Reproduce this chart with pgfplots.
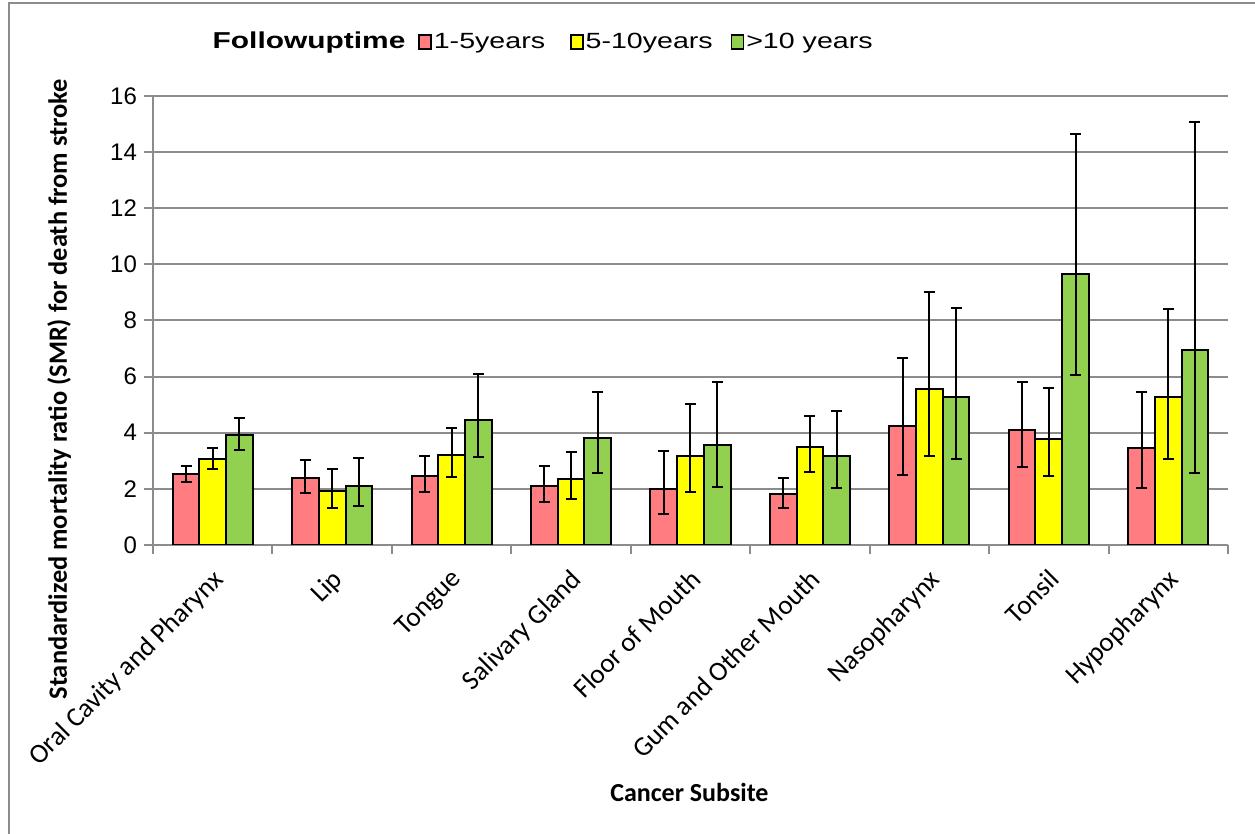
\documentclass[border=0pt]{standalone}
\usepackage{fontspec}
\usepackage{pgfplots}
\pgfplotsset{compat=1.18}
\usepackage{pgfplotstable}
\setmainfont{Carlito}
\newfontfamily\arial{Liberation Sans}
\newfontfamily\legfont[FakeStretch=1.3]{Liberation Sans}

\definecolor{cred}{RGB}{255,124,128}
\definecolor{cyel}{RGB}{255,255,0}
\definecolor{cgrn}{RGB}{146,208,80}
\definecolor{cgrid}{RGB}{140,140,140}

\pgfplotstableread{
x y hi lo
0 2.53 2.83 2.26
1 2.39 3.02 1.85
2 2.47 3.18 1.88
3 2.11 2.83 1.53
4 2.01 3.35 1.09
5 1.83 2.39 1.32
6 4.23 6.68 2.51
7 4.11 5.82 2.79
8 3.46 5.45 2.04
}\tred
\pgfplotstableread{
x y hi lo
0 3.06 3.47 2.70
1 1.91 2.70 1.33
2 3.20 4.17 2.41
3 2.36 3.31 1.64
4 3.18 5.02 1.89
5 3.49 4.61 2.61
6 5.56 9.02 3.18
7 3.79 5.60 2.46
8 5.27 8.42 3.06
}\tyel
\pgfplotstableread{
x y hi lo
0 3.91 4.53 3.37
1 2.11 3.11 1.39
2 4.45 6.09 3.15
3 3.81 5.45 2.55
4 3.58 5.80 2.06
5 3.18 4.79 2.03
6 5.29 8.45 3.08
7 9.67 14.65 6.07
8 6.94 15.06 2.55
}\tgrn

\pgfplotsset{
  errstyle/.style={
    /pgfplots/error bars/y dir=both,
    /pgfplots/error bars/y explicit,
    /pgfplots/error bars/error bar style={black, line width=1pt},
    /pgfplots/error bars/error mark options={rotate=90, black, line width=1pt, mark size=2.75pt}
  }
}

\begin{document}
\begin{tikzpicture}[x=1pt,y=1pt]
\path[use as bounding box] (0,0) rectangle (627.5,417);
\draw[cgrid, line width=1pt] (4.25,0) -- (4.25,415.5) -- (627.5,415.5);
\begin{axis}[
  at={(76.5pt,144.5pt)}, anchor=south west,
  scale only axis, width=537.5pt, height=224.5pt,
  ybar=0pt, bar width=0.2234,
  xmin=-0.5, xmax=8.5, ymin=0, ymax=16,
  ytick={0,2,...,16},
  xtick={-0.5,0.5,...,8.5}, xticklabels={},
  extra x ticks={0,1,2,3,4,5,6,7,8},
  extra x tick labels={Oral Cavity and Pharynx, Lip, Tongue, Salivary Gland, Floor of Mouth, Gum and Other Mouth, Nasopharynx, Tonsil, Hypopharynx},
  extra x tick style={major tick length=0pt, grid=none,
    tick label style={rotate=45, anchor=north east, xshift=-5pt, yshift=-4pt, font=\fontsize{13.6}{16}\selectfont}},
  ymajorgrids, grid style={cgrid, line width=1pt},
  axis x line*=bottom, axis y line*=left,
  axis line style={cgrid, line width=1pt, -},
  tick style={cgrid, line width=1pt},
  tick align=outside, major tick length=4.5pt,
  yticklabel style={font=\arial\fontsize{12}{14}\selectfont},
  /pgf/number format/assume math mode=true,
  ylabel={\bfseries Standardized mortality ratio (SMR) for death from stroke},
  ylabel style={at={(axis description cs:-0.0874,0.347)}, anchor=center, rotate=0, font=\fontsize{13.2}{15}\selectfont},
  xlabel={\bfseries Cancer Subsite},
  xlabel style={at={(axis description cs:0.499,-0.552)}, anchor=center, font=\fontsize{13}{15}\selectfont},
  legend columns=-1,
  legend style={at={(axis description cs:0.3625,1.1203)}, anchor=center, draw=none,
    font=\legfont\fontsize{11}{13}\selectfont,
    nodes={inner sep=1pt},
    /tikz/column 2/.style={column sep=5.5pt},
    /tikz/column 4/.style={column sep=11.5pt},
    /tikz/column 6/.style={column sep=8pt}},
]
\addlegendimage{empty legend}
\addlegendentry{\fontsize{11.5}{13}\selectfont\bfseries Followuptime}
\addplot[fill=cred, draw=black, line width=1pt, bar shift=0pt, errstyle,
  legend image code/.code={\draw[fill=cred,draw=black,line width=0.75pt] (0pt,-3.5pt) rectangle (6pt,3.5pt);}]
  table[x expr=\thisrow{x}-0.2234, y=y, y error plus expr=\thisrow{hi}-\thisrow{y}, y error minus expr=\thisrow{y}-\thisrow{lo}]{\tred};
\addlegendentry{1-5years}
\addplot[fill=cyel, draw=black, line width=1pt, bar shift=0pt, errstyle,
  legend image code/.code={\draw[fill=cyel,draw=black,line width=0.75pt] (0pt,-3.5pt) rectangle (6pt,3.5pt);}]
  table[x=x, y=y, y error plus expr=\thisrow{hi}-\thisrow{y}, y error minus expr=\thisrow{y}-\thisrow{lo}]{\tyel};
\addlegendentry{5-10years}
\addplot[fill=cgrn, draw=black, line width=1pt, bar shift=0pt, errstyle,
  legend image code/.code={\draw[fill=cgrn,draw=black,line width=0.75pt] (0pt,-3.5pt) rectangle (6pt,3.5pt);}]
  table[x expr=\thisrow{x}+0.2234, y=y, y error plus expr=\thisrow{hi}-\thisrow{y}, y error minus expr=\thisrow{y}-\thisrow{lo}]{\tgrn};
\addlegendentry{>10 years}
\end{axis}
\end{tikzpicture}
\end{document}
